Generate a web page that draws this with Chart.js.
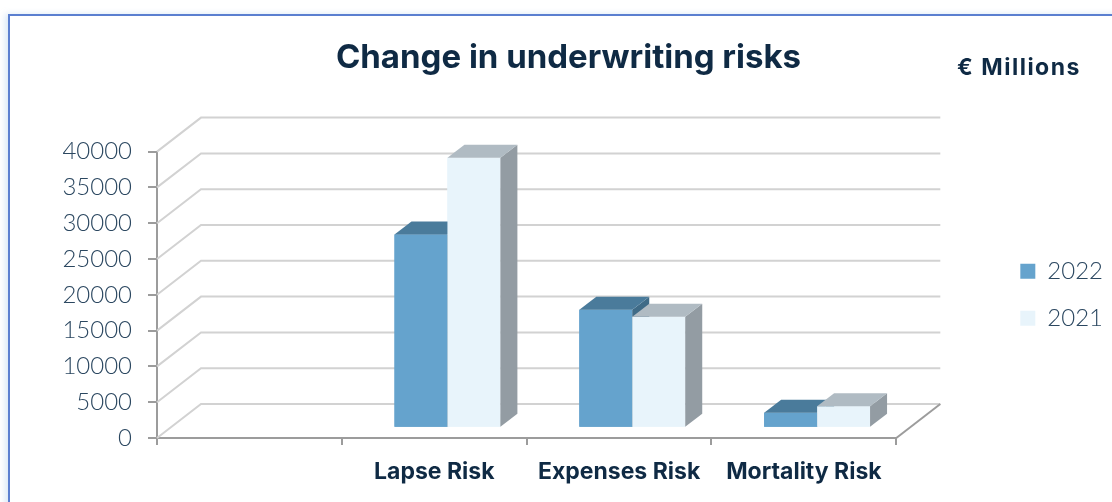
<!DOCTYPE html>
<html>
<head>
<meta charset="utf-8">
<title>Change in underwriting risks</title>
<script src="https://cdn.jsdelivr.net/npm/chart.js@4.4.0/dist/chart.umd.min.js"></script>
<style>
	html, body { margin: 0; padding: 0; background: #ffffff; overflow: hidden; }
	#frame { position: absolute; left: 8px; top: 14px; width: 1200px; height: 600px; border: 2px solid #5b7fd0; box-shadow: -3px 0 6px rgba(150, 190, 230, 0.35); }
	#chart-container { position: absolute; left: 0; top: 0; width: 1112px; height: 502px; }
</style>
</head>
<body>
<div id="frame"></div>
<div id="chart-container"><canvas id="myChart" width="1112" height="502"></canvas></div>
<script>
	//Chart Data
	var categories = ["", "Lapse Risk", "Expenses Risk", "Mortality Risk"];
	var seriesLabels = ["2022", "2021"];
	var values2022 = [null, 27000, 16500, 2100];
	var values2021 = [null, 37700, 15500, 3000];
	var yMin = 0;
	var yMax = 40000;
	var yStep = 5000;

	//3D look
	var wallDepthX = 44;
	var wallDepthY = -34;
	var barDepthX = 17;
	var barDepthY = -13;
	var barShift = 0.3;

	var textColor = "#0f2a44";
	var tickColor = "#2b4760";
	var axisColor = "#9c9c9c";

	//Draws back wall, side wall and the top/side faces of the bars
	var depthPlugin = {
		id: "depth3d",
		beforeDatasetsDraw: function (chart) {
			var ctx = chart.ctx;
			var area = chart.chartArea;
			var yScale = chart.scales.y;
			ctx.save();
			ctx.lineWidth = 2;
			ctx.strokeStyle = "#d2d2d2";
			yScale.ticks.forEach(function (t) {
				var py = yScale.getPixelForValue(t.value);
				ctx.beginPath();
				ctx.moveTo(area.left, py);
				ctx.lineTo(area.left + wallDepthX, py + wallDepthY);
				ctx.lineTo(area.right + wallDepthX, py + wallDepthY);
				ctx.stroke();
			});
			//floor right edge
			ctx.strokeStyle = axisColor;
			ctx.beginPath();
			ctx.moveTo(area.right, area.bottom);
			ctx.lineTo(area.right + wallDepthX, area.bottom + wallDepthY);
			ctx.stroke();
			ctx.restore();

			//bars sit a bit behind the front plane
			ctx.save();
			ctx.translate(wallDepthX * barShift, wallDepthY * barShift);
		},
		afterDatasetsDraw: function (chart) {
			var ctx = chart.ctx;
			chart.data.datasets.forEach(function (ds, i) {
				var meta = chart.getDatasetMeta(i);
				meta.data.forEach(function (bar, j) {
					if (ds.data[j] == null) {
						return;
					}
					bar.draw(ctx);
					var p = bar.getProps(["x", "y", "base", "width"], true);
					var l = p.x - p.width / 2;
					var r = p.x + p.width / 2;
					//side
					ctx.fillStyle = ds.sideColor;
					ctx.beginPath();
					ctx.moveTo(r, p.y);
					ctx.lineTo(r + barDepthX, p.y + barDepthY);
					ctx.lineTo(r + barDepthX, p.base + barDepthY);
					ctx.lineTo(r, p.base);
					ctx.closePath();
					ctx.fill();
					//top
					ctx.fillStyle = ds.topColor;
					ctx.beginPath();
					ctx.moveTo(l, p.y);
					ctx.lineTo(l + barDepthX, p.y + barDepthY);
					ctx.lineTo(r + barDepthX, p.y + barDepthY);
					ctx.lineTo(r, p.y);
					ctx.closePath();
					ctx.fill();
				});
			});
			ctx.restore();
		}
	};

	//Millions label
	var unitPlugin = {
		id: "unitLabel",
		afterDraw: function (chart) {
			var ctx = chart.ctx;
			ctx.save();
			ctx.fillStyle = textColor;
			ctx.font = "bold 23px Inter";
			ctx.letterSpacing = "1.5px";
			ctx.textAlign = "center";
			ctx.textBaseline = "middle";
			ctx.fillText("€ Millions", 1019, 68);
			ctx.restore();
		}
	};

	var ctx = document.getElementById("myChart").getContext("2d");
	var myChart = new Chart(ctx, {
		type: "bar",
		data: {
			labels: categories,
			datasets: [{
					label: seriesLabels[0],
					data: values2022,
					backgroundColor: "#65a3cd",
					topColor: "#4a7b9b",
					sideColor: "#3f6b87"
				},
				{
					label: seriesLabels[1],
					data: values2021,
					backgroundColor: "#e8f4fb",
					topColor: "#b0bbc3",
					sideColor: "#939ca3"
				}]
		},
		options: {
			responsive: false,
			animation: false,
			events: [],
			devicePixelRatio: 1,
			layout: { padding: { left: 24, right: -1, top: 0, bottom: 0 } },
			datasets: {
				bar: { categoryPercentage: 0.573, barPercentage: 1, borderWidth: 0 }
			},
			plugins: {
				title: {
					display: true,
					text: "Change in underwriting risks",
					color: textColor,
					font: { family: "Inter", size: 33, weight: "bold", lineHeight: 1.2 },
					padding: { top: 38, bottom: 74 }
				},
				legend: {
					position: "right",
					fullSize: false,
					labels: {
						boxWidth: 15,
						boxHeight: 15,
						padding: 23,
						color: tickColor,
						font: { family: "Lato", size: 24, weight: 300 }
					}
				},
				tooltip: { enabled: false }
			},
			scales: {
				x: {
					grid: { drawOnChartArea: false, offset: true, tickLength: 7, color: axisColor, lineWidth: 2 },
					border: { color: axisColor, width: 2 },
					ticks: { color: textColor, padding: 13, font: { family: "Inter", size: 23, weight: "bold" } },
					afterFit: function (scale) { scale.height = 64; }
				},
				y: {
					min: yMin,
					max: yMax,
					ticks: {
						stepSize: yStep,
						color: tickColor,
						padding: 16,
						font: { family: "Lato", size: 24, weight: 300 },
						callback: function (value) { return String(value); }
					},
					grid: { drawOnChartArea: false, tickLength: 9, color: axisColor, lineWidth: 2 },
					border: { color: axisColor, width: 2 },
					afterFit: function (scale) { scale.width = 133; }
				},
				yRight: {
					position: "right",
					display: true,
					ticks: { display: false },
					grid: { display: false },
					border: { display: false },
					afterFit: function (scale) { scale.width = 101; }
				}
			}
		},
		plugins: [depthPlugin, unitPlugin]
	});
</script>
</body>
</html>
